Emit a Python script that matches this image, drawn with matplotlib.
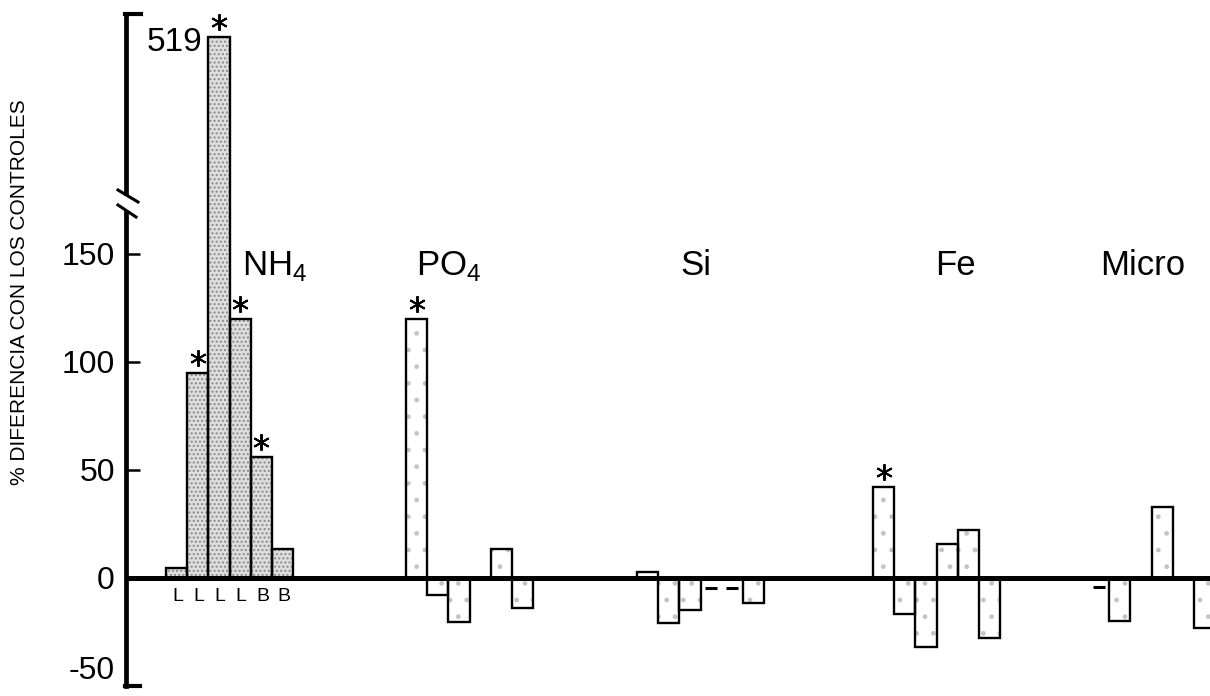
import numpy as np
import matplotlib
matplotlib.use("Agg")
import matplotlib.pyplot as plt
import matplotlib.transforms as mtransforms

plt.rcParams['font.family'] = ['Liberation Sans', 'DejaVu Sans']
plt.rcParams['mathtext.fontset'] = 'custom'
plt.rcParams['mathtext.rm'] = 'Liberation Sans'

# data (% difference with controls), None = no bar
groups = ['NH$_4$', 'PO$_4$', 'Si', 'Fe', 'Micro']
nh4 = [4.5, 95, 519, 120, 56, 13.5]
po4 = [120, -8, -20.5, None, 13.5, -14]
si = [3, -21, -15, None, None, -11.5]
fe = [42, -16.5, -32, 15.5, 22, -28]
micro = [None, -20, None, 33, None, -23]
values = [nh4, po4, si, fe, micro]
# small dashes drawn instead of bars
si_dash = [None, None, None, -4.5, -4.5, None]
micro_dash = [-4, None, None, None, None, None]
dashes = [None, None, si_dash, None, micro_dash]
# significance marks
nh4_sig = [0, 1, 1, 1, 1, 0]
po4_sig = [1, 0, 0, 0, 0, 0]
fe_sig = [1, 0, 0, 0, 0, 0]
sigs = [nh4_sig, po4_sig, [0] * 6, fe_sig, [0] * 6]
nh4_labels = ['L', 'L', 'L', 'L', 'B', 'B']

yticks = [-50, 0, 50, 100, 150]

# layout (x in pixel-like units)
group_start = [166, 406, 637, 873, 1088]
label_x = [242, 416, 680, 935, 1100]
slot = 21.2

# broken y scale: linear up to BRK, compressed above
BRK = 175.0
K = 0.2195


def fwd(v):
    v = np.asarray(v, dtype=float)
    return np.where(v <= BRK, v, BRK + (v - BRK) * K)


def inv(u):
    u = np.asarray(u, dtype=float)
    return np.where(u <= BRK, u, BRK + (u - BRK) / K)


fig = plt.figure(figsize=(12.1, 6.96), dpi=100)
ax = fig.add_axes([126 / 1210, 10 / 696, (1210 - 126) / 1210, 671 / 696])
ax.set_yscale('function', functions=(fwd, inv))
ax.set_xlim(126, 1210)
ax.set_ylim(-50, float(inv(260.6)))

# asterisks sit a little above the bar top
star_tr = ax.transData + mtransforms.ScaledTranslation(0, 0.15, fig.dpi_scale_trans)

for gi, vals in enumerate(values):
    for i, v in enumerate(vals):
        if v is None:
            continue
        x = group_start[gi] + i * slot
        if gi == 0:
            ax.bar(x, v, width=slot, align='edge', color='#dedede', hatch='....',
                   edgecolor='#8a8a8a', linewidth=0, zorder=2)
        else:
            ax.bar(x, v, width=slot, align='edge', color='white', hatch='.',
                   edgecolor='#c4c4c4', linewidth=0, zorder=2)
        ax.bar(x, v, width=slot, align='edge', fill=False, edgecolor='black',
               linewidth=1.7, zorder=3)
        if sigs[gi][i]:
            ax.plot(x + slot / 2, v, marker=(6, 2, 0), markersize=12, mew=1.4,
                    color='black', transform=star_tr, clip_on=False, zorder=4)
    if dashes[gi] is not None:
        for i, d in enumerate(dashes[gi]):
            if d is None:
                continue
            x = group_start[gi] + i * slot + slot / 2
            ax.plot([x - 6, x + 6], [d, d], color='black', lw=2.2, solid_capstyle='butt')
    ax.text(label_x[gi], 140.3, groups[gi], ha='left', va='baseline', fontsize=25)

for i, lab in enumerate(nh4_labels):
    ax.text(group_start[0] + i * slot + slot / 2 + 1, -8.7, lab, ha='center', va='center',
            fontsize=14)

ax.annotate('519', (group_start[0] + 2 * slot, 519), xytext=(-6, -6),
            textcoords='offset pixels', ha='right', va='center', fontsize=24)

# zero line
ax.axhline(0, color='black', lw=3.6, zorder=5)

# spines and ticks
for s in ['top', 'right', 'bottom']:
    ax.spines[s].set_visible(False)
ax.spines['left'].set_linewidth(3.4)
ax.set_xticks([])
ax.set_yticks(yticks)
ax.set_yticklabels([str(t) for t in yticks])
ax.tick_params(axis='y', direction='in', length=10, width=1.8, pad=8, labelsize=23)
# keep the bottom label inside the picture
ax.get_yticklabels()[0].set_va('bottom')

tr = ax.transAxes
fx = lambda px: (px - 126) / 1084
fy = lambda py: (686 - py) / 671
ax.plot([fx(125), fx(141)], [fy(14), fy(14)], color='black', lw=3, transform=tr, clip_on=False)
ax.plot([fx(125), fx(140)], [fy(686), fy(686)], color='black', lw=3, transform=tr, clip_on=False)
# break marks
ax.plot([fx(126), fx(126)], [fy(199), fy(207)], color='white', lw=5, transform=tr, clip_on=False, zorder=6)
ax.plot([fx(118), fx(138)], [fy(190), fy(202)], color='black', lw=2.2, transform=tr, clip_on=False, zorder=7)
ax.plot([fx(118), fx(136)], [fy(205), fy(217)], color='black', lw=2.2, transform=tr, clip_on=False, zorder=7)

fig.text(20 / 1210, 1 - 292 / 696, '% DIFERENCIA CON LOS CONTROLES', rotation=90,
         ha='center', va='center', fontsize=15)

fig.savefig('out.png', dpi=100)
